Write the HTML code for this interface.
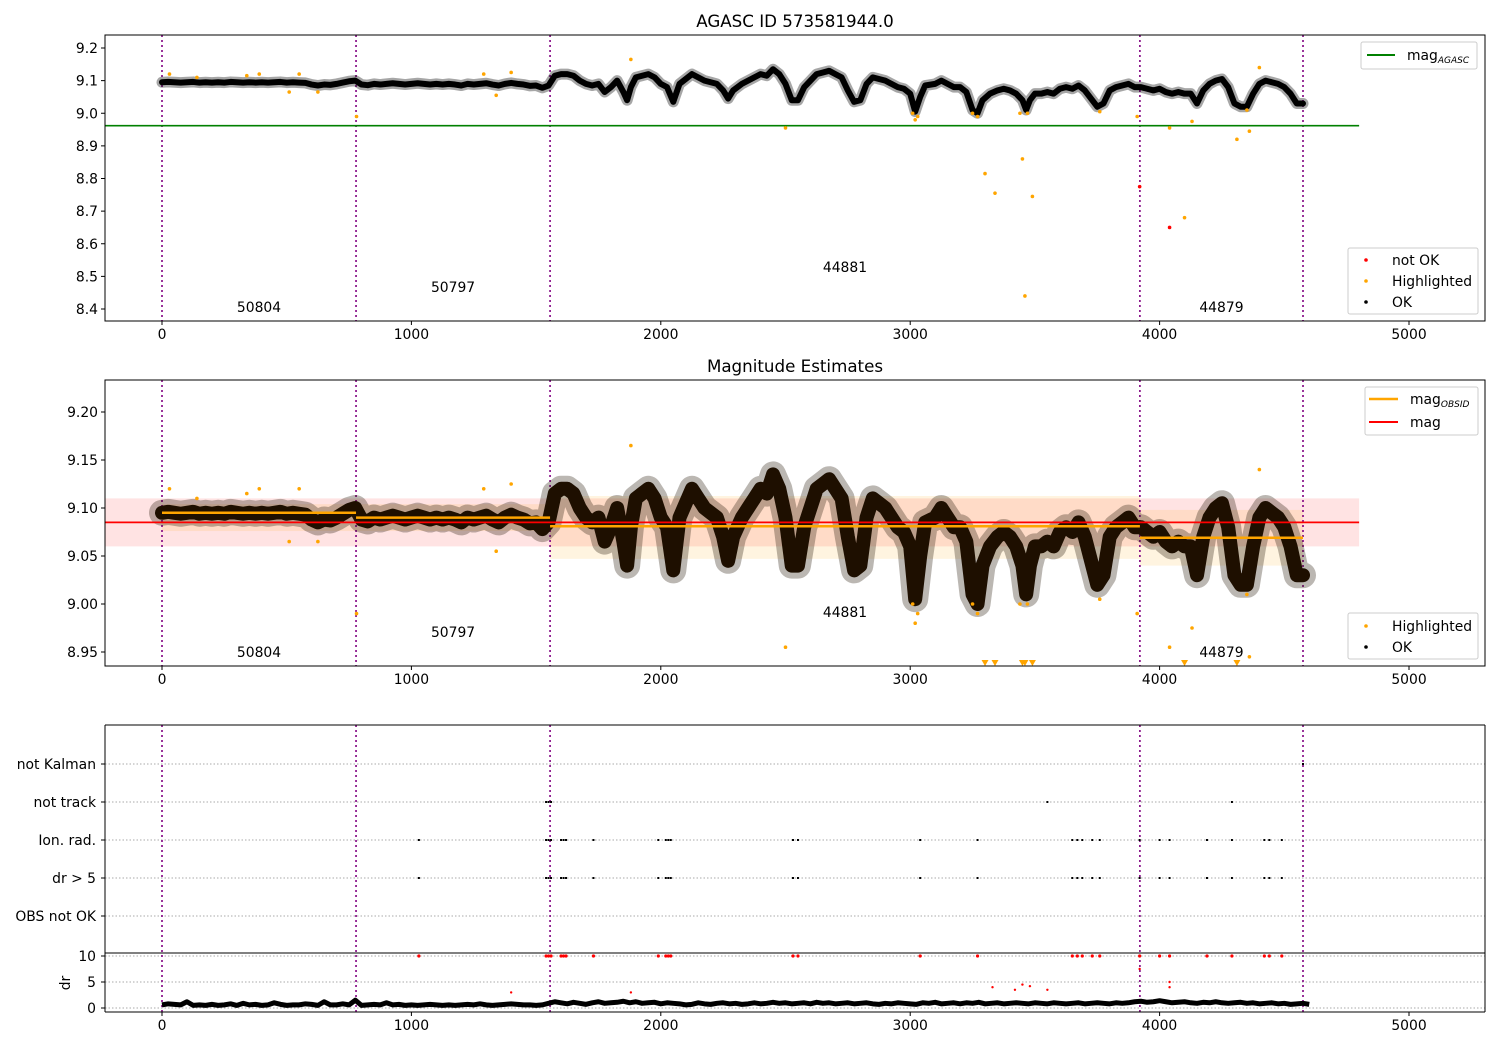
<!DOCTYPE html>
<html><head><meta charset="utf-8"><style>
body{margin:0;background:#fff;}
svg{font-family:"DejaVu Sans","Liberation Sans",sans-serif;}
</style></head><body>
<svg id="chart" width="1500" height="1050" viewBox="0 0 1500 1050" xmlns="http://www.w3.org/2000/svg"></svg>
<script>
// ---- data ----
const obsTimes=[0,25,50,75,100,125,150,175,200,225,250,275,300,325,350,375,400,425,450,475,500,525,550,575,600,625,650,675,700,725,750,775,800,825,850,875,900,925,950,975,1000,1025,1050,1075,1100,1125,1150,1175,1200,1225,1250,1275,1300,1325,1350,1375,1400,1425,1450,1475,1500,1525,1550,1575,1600,1625,1650,1675,1700,1725,1750,1775,1800,1825,1850,1865,1880,1900,1925,1950,1975,2000,2025,2050,2075,2100,2125,2150,2175,2200,2225,2250,2270,2290,2325,2350,2375,2400,2425,2450,2475,2500,2525,2550,2575,2600,2625,2650,2675,2700,2725,2750,2775,2800,2825,2850,2875,2900,2925,2950,2975,3000,3020,3040,3060,3100,3125,3150,3175,3200,3225,3250,3270,3290,3320,3350,3375,3400,3425,3450,3465,3480,3500,3525,3550,3575,3600,3625,3650,3675,3700,3725,3750,3775,3800,3825,3850,3875,3900,3925,3950,3975,4000,4025,4050,4075,4100,4125,4150,4175,4200,4225,4250,4275,4300,4325,4350,4375,4400,4425,4450,4475,4500,4525,4550,4575];
const mags=[9.095,9.096,9.095,9.094,9.095,9.096,9.094,9.095,9.094,9.095,9.094,9.096,9.095,9.094,9.095,9.094,9.095,9.094,9.095,9.096,9.094,9.095,9.094,9.093,9.088,9.085,9.088,9.087,9.09,9.094,9.098,9.10,9.088,9.086,9.09,9.088,9.09,9.092,9.09,9.088,9.09,9.092,9.09,9.088,9.09,9.088,9.09,9.088,9.085,9.09,9.088,9.09,9.092,9.088,9.085,9.09,9.093,9.09,9.088,9.084,9.085,9.078,9.085,9.115,9.12,9.12,9.115,9.10,9.09,9.085,9.09,9.065,9.08,9.10,9.065,9.04,9.08,9.11,9.115,9.12,9.11,9.09,9.08,9.035,9.09,9.105,9.12,9.11,9.10,9.095,9.09,9.07,9.045,9.07,9.09,9.10,9.11,9.12,9.115,9.135,9.12,9.09,9.04,9.04,9.08,9.10,9.12,9.125,9.13,9.12,9.11,9.07,9.035,9.04,9.09,9.11,9.105,9.10,9.09,9.08,9.075,9.06,9.005,9.05,9.085,9.09,9.10,9.09,9.08,9.08,9.065,9.01,9.0,9.04,9.06,9.07,9.075,9.07,9.06,9.04,9.01,9.04,9.06,9.06,9.065,9.06,9.075,9.08,9.075,9.085,9.07,9.045,9.02,9.03,9.07,9.08,9.085,9.09,9.08,9.08,9.075,9.07,9.075,9.065,9.06,9.065,9.06,9.06,9.03,9.07,9.09,9.10,9.105,9.08,9.03,9.02,9.02,9.06,9.09,9.10,9.095,9.09,9.08,9.06,9.03,9.03];
const hlTimes=[30,140,340,390,510,550,625,780,1290,1340,1400,1880,2500,3010,3020,3030,3250,3270,3300,3340,3440,3450,3460,3470,3490,3760,3910,4040,4100,4130,4310,4350,4360,4400];
const hlMags=[9.12,9.11,9.115,9.12,9.065,9.12,9.065,8.99,9.12,9.055,9.125,9.165,8.955,9.0,8.98,8.99,9.0,8.99,8.815,8.755,9.0,8.86,8.44,9.0,8.745,9.005,8.99,8.955,8.68,8.975,8.92,9.01,8.945,9.14];
const notOkTimes=[3920,4040];
const notOkMags=[8.775,8.65];
const obsStarts=[0,778,1556,3921];
const obsEnds=[778,1556,3921,4575];
const obsIds=["50804","50797","44881","44879"];
const obsMag=[9.095,9.090,9.081,9.069];
const obsLo=[9.076,9.076,9.047,9.040];
const obsHi=[9.104,9.104,9.1125,9.098];
const magAgasc=8.962, magMean=9.085, magLo=9.06, magHi=9.11;
const flagCats=["not Kalman","not track","Ion. rad.","dr > 5","OBS not OK"];
const drFlagTimes=[1030,1540,1550,1560,1600,1610,1620,1730,1990,2020,2030,2040,2530,2550,3040,3270,3650,3670,3690,3730,3760,3920,4000,4040,4190,4290,4420,4440,4490];
const trackTimes=[1540,1550,1560,3550,4290];
const kalmanTimes=[4575];
const drRedTimes=[1400,1880,3330,3420,3450,3480,3550,3920,4040,4040];
const drRedVals=[3,3,4,3.5,4.5,4.2,3.5,7.5,5,4];
const drBase=[0.6,0.8,0.7,0.6,1.2,0.5,0.6,0.5,0.7,0.5,0.6,0.8,0.5,0.9,0.6,0.7,0.5,0.6,1.0,0.7,0.5,0.6,0.6,0.8,0.7,0.5,1.2,0.6,0.6,0.8,0.6,1.5,0.5,0.6,0.7,0.6,1.0,0.6,0.7,0.5,0.6,0.5,0.6,0.7,0.6,0.5,0.6,0.5,0.6,0.7,0.6,0.8,0.6,0.5,0.6,0.7,0.8,0.7,0.6,0.6,0.5,0.6,0.9,1.2,1.0,0.8,1.1,0.9,0.7,1.0,1.2,0.9,1.0,1.1,1.3,1.0,1.2,0.9,1.0,1.1,0.8,1.0,0.9,0.8,0.6,0.7,1.0,0.8,0.7,0.9,1.0,0.8,0.9,0.7,0.8,1.0,0.8,0.9,1.1,0.9,1.0,0.8,0.9,1.0,0.8,1.1,0.9,1.0,0.8,0.9,1.0,0.8,0.9,1.0,0.8,0.7,0.9,0.8,1.0,0.9,0.8,0.7,1.0,0.9,1.1,0.8,0.9,1.0,0.8,1.0,0.9,1.1,0.8,0.9,1.0,0.8,0.9,1.0,0.9,0.8,1.0,0.9,0.8,1.0,0.9,0.8,0.9,1.0,0.8,0.9,1.0,0.9,0.8,1.0,0.9,1.0,1.2,1.3,1.1,1.2,1.4,1.2,1.0,1.1,1.2,1.0,0.9,1.1,1.0,1.2,1.0,0.9,1.0,1.1,0.9,1.0,0.8,0.9,1.0,0.8,0.9,0.7,0.8,0.9,0.7];
const xTicks=[0,1000,2000,3000,4000,5000];
const y1Ticks=[8.4,8.5,8.6,8.7,8.8,8.9,9.0,9.1,9.2];
const y2Ticks=[8.95,9.00,9.05,9.10,9.15,9.20];
const drTicks=[0,5,10];

// ---- scales ----
const X=v=>162+v*0.2494;
const Y1=m=>48+(9.2-m)*326.25;
const Y2=m=>412+(9.2-m)*960;
const YD=d=>1008-d*5.2;
const flagY=[764,802,840,878,916];
const NS="http://www.w3.org/2000/svg";
const svg=document.getElementById('chart');
const FS=13.9;
function mk(tag,attrs,parent,name){const e=document.createElementNS(NS,tag);for(const k in attrs)e.setAttribute(k,attrs[k]);


(parent||svg).appendChild(e);return e;}
function txt(s,x,y,attrs,name,parent){const t=mk('text',Object.assign({x:x,y:y,'font-size':FS,fill:'#000'},attrs||{}),parent,name);t.textContent=s;return t;}

const L=105,R=1485;
function clip(id,t,b){const c=mk('clipPath',{id:id},null,'clip-'+id);mk('rect',{x:L,y:t,width:R-L,height:b-t},c,'clip-rect');}
clip('c1',35,321);clip('c2',380,666);clip('c3',725,1012);

function xAxis(yb){xTicks.forEach(v=>{mk('line',{x1:X(v),x2:X(v),y1:yb,y2:yb+4,stroke:'#000'},null,'x-tick');txt(String(v),X(v),yb+18,{'text-anchor':'middle'},'x-tick-label');});}
function vlines(t,b,g){obsStarts.concat([obsEnds[obsEnds.length-1]]).forEach(v=>mk('line',{x1:X(v),x2:X(v),y1:t,y2:b,stroke:'purple','stroke-width':1.6,'stroke-dasharray':'2,3'},g,'obs-boundary'));}

// ===== Panel 1 =====
const g1=mk('g',{'clip-path':'url(#c1)'},null,'panel-agasc-plot');
vlines(35,321,g1);
mk('line',{x1:L,x2:X(4800),y1:Y1(magAgasc),y2:Y1(magAgasc),stroke:'green','stroke-width':1.6},g1,'mag-agasc-line');
const pts1=obsTimes.map((t,i)=>X(t)+','+Y1(mags[i])).join(' ');
mk('polyline',{points:pts1,fill:'none',stroke:'#000','stroke-width':11,'stroke-opacity':0.35,'stroke-linejoin':'round','stroke-linecap':'round'},g1,'ok-points-halo');
mk('polyline',{points:pts1,fill:'none',stroke:'#000','stroke-width':6,'stroke-linejoin':'round','stroke-linecap':'round'},g1,'ok-points-band');
hlTimes.forEach((t,i)=>mk('circle',{cx:X(t),cy:Y1(hlMags[i]),r:1.8,fill:'orange'},g1,'highlighted-point'));
notOkTimes.forEach((t,i)=>mk('circle',{cx:X(t),cy:Y1(notOkMags[i]),r:1.8,fill:'red'},g1,'not-ok-point'));
[[0,312],[1,292],[2,272],[3,312]].forEach(([i,y])=>txt(obsIds[i],(X(obsStarts[i])+X(obsEnds[i]))/2,y,{'text-anchor':'middle'},'obsid-label'));
mk('rect',{x:L,y:35,width:R-L,height:286,fill:'none',stroke:'#000'},null,'panel1-frame');
y1Ticks.forEach(v=>{mk('line',{x1:L-4,x2:L,y1:Y1(v),y2:Y1(v),stroke:'#000'},null,'y-tick');txt(v.toFixed(1),L-7,Y1(v)+5,{'text-anchor':'end'},'y-tick-label');});
xAxis(321);
txt('AGASC ID 573581944.0',795,27,{'text-anchor':'middle','font-size':16.7},'panel1-title');
const lg1=mk('g',{},null,'legend-agasc');
mk('rect',{x:1361,y:42,width:116,height:27,fill:'#fff',stroke:'#ccc',rx:2},lg1,'legend-box');
mk('line',{x1:1367,x2:1395,y1:55,y2:55,stroke:'green','stroke-width':2},lg1,'legend-swatch');
const t1=txt('mag',1407,60,{},'legend-entry-mag-agasc',lg1);
const ts=mk('tspan',{'font-size':9,'font-style':'italic',dy:3},t1,'subscript');ts.textContent='AGASC';
const lg2=mk('g',{},null,'legend-status');
mk('rect',{x:1348,y:248,width:130,height:66,fill:'#fff',stroke:'#ccc',rx:2},lg2,'legend-box');
[['red','not OK',260],['orange','Highlighted',281],['#000','OK',302]].forEach(([c,s,y])=>{mk('circle',{cx:1366,cy:y,r:1.8,fill:c},lg2,'legend-marker');txt(s,1392,y+5,{},'legend-entry',lg2);});

// ===== Panel 2 =====
const g2=mk('g',{'clip-path':'url(#c2)'},null,'panel-mag-plot');
mk('rect',{x:L,y:Y2(magHi),width:X(4800)-L,height:Y2(magLo)-Y2(magHi),fill:'rgba(255,0,0,0.11)'},g2,'mag-band');
obsStarts.forEach((s,i)=>mk('rect',{x:X(s),y:Y2(obsHi[i]),width:X(obsEnds[i])-X(s),height:Y2(obsLo[i])-Y2(obsHi[i]),fill:'rgba(255,165,0,0.12)'},g2,'obs-band'));
vlines(380,666,g2);
const pts2=obsTimes.map((t,i)=>X(t)+','+Y2(mags[i])).join(' ');
mk('polyline',{points:pts2,fill:'none',stroke:'#1e0f00','stroke-width':26,'stroke-opacity':0.3,'stroke-linejoin':'round','stroke-linecap':'round'},g2,'ok-points-halo');
mk('polyline',{points:pts2,fill:'none',stroke:'#1e0f00','stroke-width':14,'stroke-linejoin':'round','stroke-linecap':'round'},g2,'ok-points-band');
obsStarts.forEach((s,i)=>mk('line',{x1:X(s),x2:X(obsEnds[i]),y1:Y2(obsMag[i]),y2:Y2(obsMag[i]),stroke:'orange','stroke-width':2.5},g2,'mag-obsid-line'));
mk('line',{x1:L,x2:X(4800),y1:Y2(magMean),y2:Y2(magMean),stroke:'red','stroke-width':1.8},g2,'mag-line');
hlTimes.forEach((t,i)=>{if(hlMags[i]>8.94)mk('circle',{cx:X(t),cy:Y2(hlMags[i]),r:1.8,fill:'orange'},g2,'highlighted-point');
else{const x=X(t);mk('polygon',{points:(x-3.5)+',660 '+(x+3.5)+',660 '+x+',666',fill:'orange'},g2,'highlighted-offscale-marker');}});
[[0,657],[1,637],[2,617],[3,657]].forEach(([i,y])=>txt(obsIds[i],(X(obsStarts[i])+X(obsEnds[i]))/2,y,{'text-anchor':'middle'},'obsid-label'));
mk('rect',{x:L,y:380,width:R-L,height:286,fill:'none',stroke:'#000'},null,'panel2-frame');
y2Ticks.forEach(v=>{mk('line',{x1:L-4,x2:L,y1:Y2(v),y2:Y2(v),stroke:'#000'},null,'y-tick');txt(v.toFixed(2),L-7,Y2(v)+5,{'text-anchor':'end'},'y-tick-label');});
xAxis(666);
txt('Magnitude Estimates',795,372,{'text-anchor':'middle','font-size':16.7},'panel2-title');
const lg3=mk('g',{},null,'legend-mag');
mk('rect',{x:1365,y:387,width:113,height:48,fill:'#fff',stroke:'#ccc',rx:2},lg3,'legend-box');
mk('line',{x1:1369,x2:1398,y1:399,y2:399,stroke:'orange','stroke-width':2.5},lg3,'legend-swatch');
const t2=txt('mag',1410,404,{},'legend-entry-mag-obsid',lg3);
const ts2=mk('tspan',{'font-size':9,'font-style':'italic',dy:3},t2,'subscript');ts2.textContent='OBSID';
mk('line',{x1:1369,x2:1398,y1:422,y2:422,stroke:'red','stroke-width':2},lg3,'legend-swatch');
txt('mag',1410,427,{},'legend-entry-mag',lg3);
const lg4=mk('g',{},null,'legend-status-2');
mk('rect',{x:1348,y:613,width:130,height:46,fill:'#fff',stroke:'#ccc',rx:2},lg4,'legend-box');
[['orange','Highlighted',626],['#000','OK',647]].forEach(([c,s,y])=>{mk('circle',{cx:1366,cy:y,r:1.8,fill:c},lg4,'legend-marker');txt(s,1392,y+5,{},'legend-entry',lg4);});

// ===== Panel 3 =====
const g3=mk('g',{'clip-path':'url(#c3)'},null,'panel-flags-plot');
flagY.forEach((y,i)=>{mk('line',{x1:L,x2:R,y1:y,y2:y,stroke:'#aaa','stroke-dasharray':'1.5,2'},g3,'flag-grid');});
drTicks.forEach(v=>mk('line',{x1:L,x2:R,y1:YD(v),y2:YD(v),stroke:'#aaa','stroke-dasharray':'1.5,2'},g3,'dr-grid'));
vlines(725,1012,g3);
mk('line',{x1:L,x2:R,y1:953,y2:953,stroke:'#000','stroke-width':1},g3,'dr-separator');
drFlagTimes.forEach(t=>{mk('rect',{x:X(t)-1,y:flagY[2]-1,width:2,height:2,fill:'#000'},g3,'ion-rad-flag');mk('rect',{x:X(t)-1,y:flagY[3]-1,width:2,height:2,fill:'#000'},g3,'dr-gt-5-flag');mk('circle',{cx:X(t),cy:YD(10),r:1.6,fill:'red'},g3,'dr-high-point');});
trackTimes.forEach(t=>mk('rect',{x:X(t)-1,y:flagY[1]-1,width:2,height:2,fill:'#000'},g3,'not-track-flag'));
kalmanTimes.forEach(t=>mk('rect',{x:X(t)-1,y:flagY[0]-1,width:2,height:2,fill:'#000'},g3,'not-kalman-flag'));
mk('polyline',{points:drBase.map((d,i)=>X(i*25)+','+YD(d)).join(' '),fill:'none',stroke:'#000','stroke-width':5,'stroke-linejoin':'round'},g3,'dr-points-band');
drRedTimes.forEach((t,i)=>mk('circle',{cx:X(t),cy:YD(drRedVals[i]),r:1.2,fill:'red'},g3,'dr-point'));
mk('line',{x1:L,x2:R,y1:725,y2:725,stroke:'#000'},null,'panel3-top');
mk('line',{x1:L,x2:L,y1:725,y2:1012,stroke:'#000'},null,'panel3-left');
mk('line',{x1:R,x2:R,y1:725,y2:1012,stroke:'#000'},null,'panel3-right');
mk('line',{x1:L,x2:R,y1:1012,y2:1012,stroke:'#000'},null,'panel3-bottom');
flagCats.forEach((c,i)=>{mk('line',{x1:L-4,x2:L,y1:flagY[i],y2:flagY[i],stroke:'#000'},null,'y-tick');txt(c,L-9,flagY[i]+5,{'text-anchor':'end'},'flag-label');});
drTicks.forEach(v=>{mk('line',{x1:L-4,x2:L,y1:YD(v),y2:YD(v),stroke:'#000'},null,'y-tick');txt(String(v),L-9,YD(v)+5,{'text-anchor':'end'},'dr-tick-label');});
txt('dr',70,983,{'text-anchor':'middle',transform:'rotate(-90 70 983)'},'dr-axis-title');
xAxis(1012);
</script>
</body></html>
